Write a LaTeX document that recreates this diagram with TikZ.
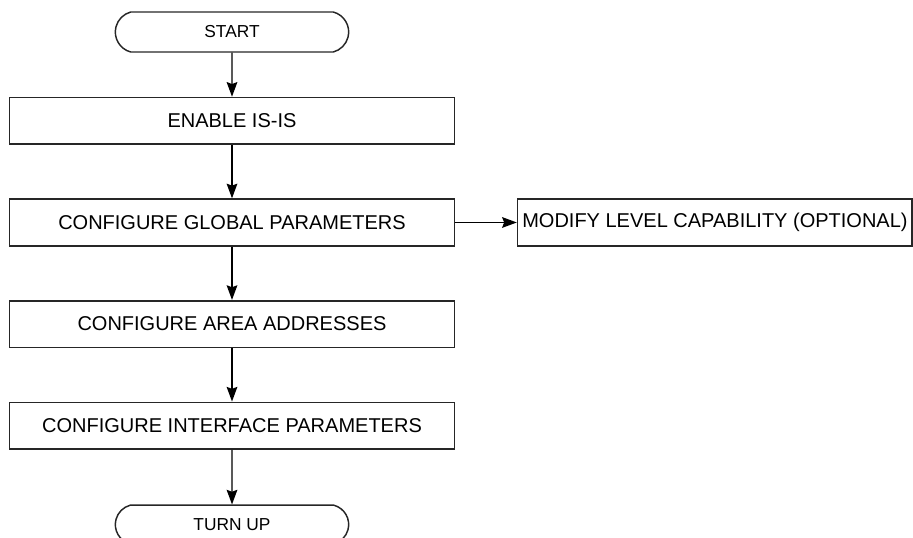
\documentclass[tikz,border=0pt]{standalone}
\usepackage{fontspec}
\setmainfont{Liberation Sans}
\usetikzlibrary{
  shapes.misc,
  arrows.meta,
  positioning
}
\tikzset{
  termnode/.style={rounded rectangle,rounded rectangle arc length=150,draw=black!85,line width=1.1pt,
    minimum width=179pt,minimum height=30pt,inner sep=2pt,
    font=\fontsize{13pt}{15pt}\selectfont},
  procnode/.style={rectangle,draw=black!85,line width=1.2pt,
    minimum width=334pt,minimum height=35pt,inner sep=2pt,
    font=\fontsize{15pt}{18pt}\selectfont},
  arr/.style={-{Stealth[length=11pt,width=8pt,inset=1.5pt]},line width=1.1pt,draw=black}
}

\begin{document}
\begin{tikzpicture}[node distance=40pt and 46pt]

  \useasboundingbox (0,0) rectangle (684.75pt,-402.75pt);

  % Terminals and main steps
  \node[termnode] (start) at (174pt,-24pt) {START};
  \node[procnode,below=33pt of start] (enable) {ENABLE IS-IS};
  \node[procnode,below=of enable] (global) {CONFIGURE GLOBAL PARAMETERS};
  \node[procnode,below=of global] (area) {CONFIGURE AREA ADDRESSES};
  \node[procnode,below=of area] (iface) {CONFIGURE INTERFACE PARAMETERS};
  \node[termnode,below=41pt of iface,minimum height=29pt] (turnup) {TURN UP};

  % Optional step
  \node[procnode,right=of global,minimum width=296pt] (modify)
    {MODIFY LEVEL CAPABILITY (OPTIONAL)};

  \draw[arr] (start) -- (enable);
  \draw[arr] (enable) -- (global);
  \draw[arr] (global) -- (area);
  \draw[arr] (area) -- (iface);
  \draw[arr] (iface) -- (turnup);
  \draw[arr] (global) -- (modify);

\end{tikzpicture}
\end{document}
